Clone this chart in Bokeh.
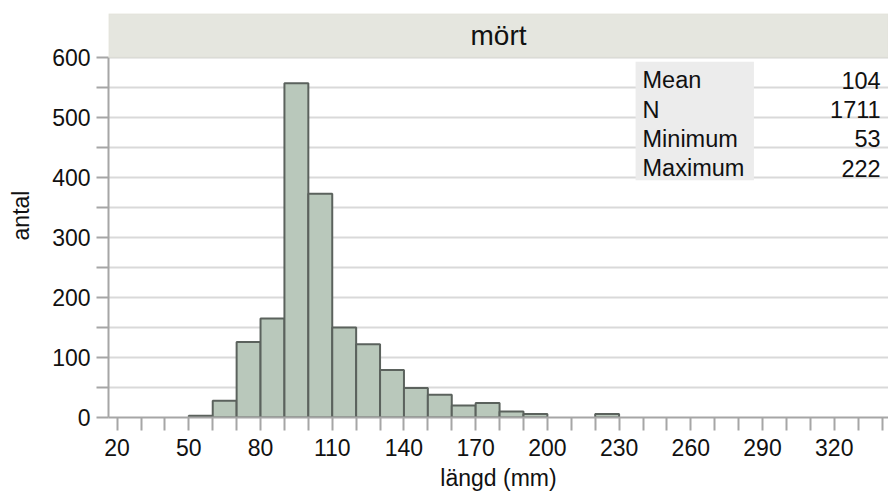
from bokeh.plotting import figure
from bokeh.models import BoxAnnotation, Label, FixedTicker, Range1d
from bokeh.embed import file_html
from bokeh.resources import INLINE

# Histogram of roach (mört) lengths, 10 mm bins
bin_start = [50, 60, 70, 80, 90, 100, 110, 120, 130, 140, 150, 160, 170, 180, 190, 220]
counts = [3, 28, 126, 165, 557, 373, 150, 122, 79, 49, 38, 20, 24, 10, 6, 6]
bin_width = 10

# Summary statistics table
stat_names = ["Mean", "N", "Minimum", "Maximum"]
stat_values = ["104", "1711", "53", "222"]

# Axis ticks
x_tick_labels = [20, 50, 80, 110, 140, 170, 200, 230, 260, 290, 320]
x_minor_ticks = [30, 40, 60, 70, 90, 100, 120, 130, 150, 160, 180, 190, 210,
                 220, 240, 250, 270, 280, 300, 310, 330, 340]
y_tick_labels = [0, 100, 200, 300, 400, 500, 600]
y_minor_ticks = [50, 150, 250, 350, 450, 550]

panel_title = "mört"
x_title = "längd (mm)"
y_title = "antal"
FONT = "Liberation Sans"

x_start, x_end = 16.4, 342.7
y_top_data = 600
y_end = 673.3

p = figure(width=888, height=494, output_backend="svg", toolbar_location=None,
           x_range=Range1d(x_start, x_end), y_range=Range1d(0, y_end),
           min_border_left=108, min_border_right=0, min_border_top=13,
           min_border_bottom=77)
p.outline_line_color = None
p.background_fill_color = "white"
p.border_fill_color = "white"

# gridlines every 50
p.xgrid.visible = False
p.ygrid.ticker = FixedTicker(ticks=sorted(y_tick_labels[1:] + y_minor_ticks))
p.ygrid.grid_line_color = "#d9d9d9"
p.ygrid.grid_line_width = 2

# bars
lefts = bin_start
rights = [b + bin_width for b in bin_start]
p.quad(left=lefts, right=rights, bottom=0, top=counts,
       fill_color="#b9c8bb", line_color="#5b625d", line_width=2)

# panel header strip
p.add_layout(BoxAnnotation(bottom=y_top_data, fill_color="#e5e6df", fill_alpha=1,
                           line_color="#d5d7c9", line_width=1.5))
p.add_layout(Label(x=(x_start + x_end) / 2, y=(y_top_data + y_end) / 2, text=panel_title,
                   text_align="center", text_baseline="middle",
                   text_font=FONT, text_font_size="28px", text_color="#111111"))

# statistics table
p.add_layout(BoxAnnotation(left=236.9, right=286.4, bottom=395.5, top=592.7,
                           fill_color="#ececec", fill_alpha=1, line_color=None))
row_y = [562.2, 513.3, 464.3, 415.5]
for name, val, yy in zip(stat_names, stat_values, row_y):
    p.add_layout(Label(x=239.8, y=yy, text=name, text_align="left", text_baseline="middle",
                       text_font=FONT, text_font_size="23.5px", text_color="#111111"))
    p.add_layout(Label(x=339.4, y=yy, text=val, text_align="right", text_baseline="middle",
                       text_font=FONT, text_font_size="23.5px", text_color="#111111"))

# axes
axis_color = "#a6a6a6"
for ax in (p.xaxis[0], p.yaxis[0]):
    ax.axis_line_color = axis_color
    ax.axis_line_width = 2
    ax.major_tick_line_color = axis_color
    ax.minor_tick_line_color = axis_color
    ax.major_tick_line_width = 2
    ax.minor_tick_line_width = 2
    ax.major_tick_in = 0
    ax.minor_tick_in = 0
    ax.major_label_text_font = FONT
    ax.major_label_text_font_size = "23px"
    ax.major_label_text_color = "#111111"
    ax.axis_label_text_font = FONT
    ax.axis_label_text_font_size = "23px"
    ax.axis_label_text_font_style = "normal"
    ax.axis_label_text_color = "#111111"

p.xaxis.ticker = FixedTicker(ticks=x_tick_labels, minor_ticks=x_minor_ticks)
p.xaxis.major_tick_out = 13
p.xaxis.minor_tick_out = 13
p.xaxis.major_label_standoff = 8
p.xaxis.axis_label = x_title
p.xaxis.axis_label_standoff = 6

p.yaxis.ticker = FixedTicker(ticks=y_tick_labels, minor_ticks=y_minor_ticks)
p.yaxis.bounds = (0, y_top_data)
p.yaxis.major_tick_out = 12
p.yaxis.minor_tick_out = 12
p.yaxis.major_label_standoff = 6
p.yaxis.axis_label = y_title
p.yaxis.axis_label_standoff = 15

open("out.html", "w").write(file_html(p, INLINE))
